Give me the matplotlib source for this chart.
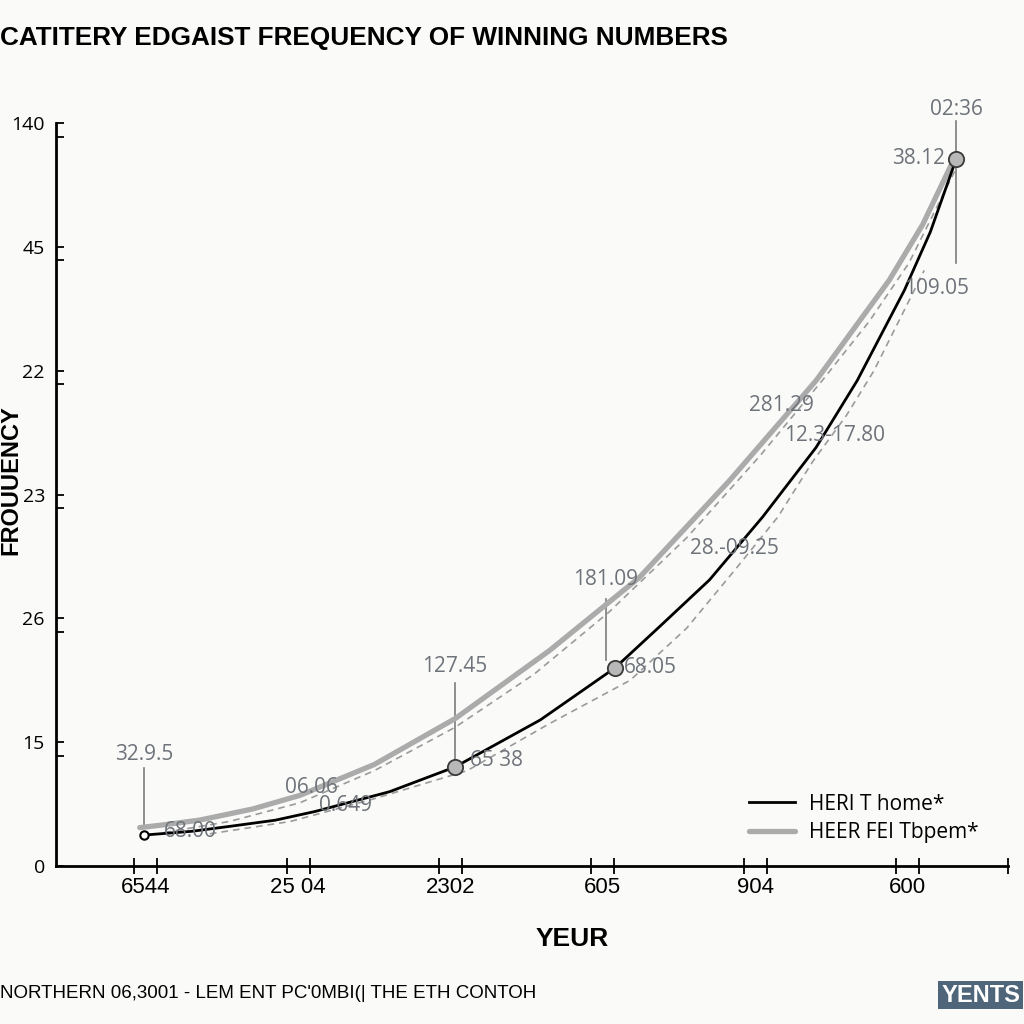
import numpy as np
import matplotlib.pyplot as plt

# category labels along the x axis
year_labels = ["6544", "25 04", "2302", "605", "904", "600"]
freq_labels = ["0", "15", "26", "23", "22", "45", "140"]

# black series
home_x = [-0.01, 0.30, 0.55, 0.85, 1.11, 1.60, 2.03, 2.59, 3.08, 3.37, 3.70, 4.05, 4.40, 4.67, 4.98, 5.15, 5.32]
home_y = [0.25, 0.28, 0.32, 0.37, 0.44, 0.60, 0.80, 1.18, 1.60, 1.93, 2.31, 2.82, 3.38, 3.92, 4.65, 5.12, 5.71]

# grey series
fel_x = [-0.04, 0.10, 0.35, 0.70, 1.01, 1.50, 2.03, 2.65, 3.24, 3.83, 4.40, 4.88, 5.10, 5.31]
fel_y = [0.31, 0.33, 0.37, 0.46, 0.57, 0.82, 1.19, 1.74, 2.33, 3.11, 3.92, 4.73, 5.18, 5.72]

# dashed guide lines
dash1_x = [0.12, 0.55, 1.01, 1.50, 2.03, 2.55, 3.04, 3.55, 4.03, 4.44, 4.75, 5.01, 5.31]
dash1_y = [0.27, 0.36, 0.51, 0.77, 1.12, 1.55, 2.05, 2.65, 3.31, 3.92, 4.40, 4.87, 5.61]
dash2_x = [0.42, 0.95, 1.49, 2.11, 2.65, 3.18, 3.55, 3.88, 4.15, 4.38, 4.60, 4.78, 5.11]
dash2_y = [0.26, 0.36, 0.54, 0.77, 1.15, 1.50, 1.92, 2.41, 2.82, 3.27, 3.64, 4.00, 4.81]

mark_x = [2.03, 3.08, 5.32]
mark_y = [0.80, 1.60, 5.71]

plt.rcParams['font.family'] = ['Open Sans', 'DejaVu Sans']
narrow = ['Liberation Sans', 'DejaVu Sans']
bg = '#fafaf8'
txt = '#6e737a'

fig = plt.figure(figsize=(10.24, 10.24), dpi=100, facecolor=bg)
ax = fig.add_axes([56/1024, (1024-866)/1024, (1008-56)/1024, (866-123)/1024])
ax.set_facecolor(bg)

ax.plot(fel_x, fel_y, color='#ababab', lw=3.8, solid_capstyle='round',
        solid_joinstyle='round', label='HEER FEI Tbpem*', zorder=2)
ax.plot(dash1_x, dash1_y, color='#9b9b9b', lw=1.2, ls=(0, (4, 3)), zorder=2)
ax.plot(dash2_x, dash2_y, color='#9b9b9b', lw=1.2, ls=(0, (4, 3)), zorder=2)
ax.plot(home_x, home_y, color='black', lw=2, solid_joinstyle='round',
        label='HERI T home*', zorder=3)

# leader lines
for lx, y0, y1 in [(-0.01, 0.31, 0.79), (2.03, 0.85, 1.48),
                   (3.02, 1.66, 2.16), (5.32, 4.87, 6.02)]:
    ax.plot([lx, lx], [y0, y1], color='#7d7d7d', lw=1.2, zorder=1, clip_on=False)

ax.plot(mark_x, mark_y, 'o', ms=11, mfc='#b8b8b8', mec='#3a3a3a', mew=1.3, zorder=4, clip_on=False)
ax.plot([-0.01], [0.25], 'o', ms=6, mfc='white', mec='black', mew=1.5, zorder=4)

notes = [
    ("32.9.5", -0.01, 0.90, 'center'),
    ("06.06", 1.09, 0.63, 'center'),
    ("0.649", 1.31, 0.49, 'center'),
    ("68.00", 0.29, 0.28, 'center'),
    ("127.45", 2.03, 1.61, 'center'),
    ("65 38", 2.13, 0.85, 'left'),
    ("181.09", 3.02, 2.31, 'center'),
    ("68.05", 3.14, 1.60, 'left'),
    ("28.-09.25", 3.57, 2.56, 'left'),
    ("281.29", 3.96, 3.72, 'left'),
    ("12.3-17.80", 4.19, 3.48, 'left'),
    ("38.12", 5.25, 5.71, 'right'),
    ("02:36", 5.32, 6.11, 'center'),
    ("109.05", 4.98, 4.66, 'left'),
]
for s, x, y, ha in notes:
    ax.text(x, y, s, color=txt, fontsize=15, ha=ha, va='center', zorder=5, clip_on=False)

ax.set_xlim(-0.59, 5.66)
ax.set_ylim(0, 6)

xpos = np.arange(len(year_labels))
ax.set_xticks(xpos)
ax.set_xticklabels(year_labels, family=narrow, fontsize=16)
ax.set_xticks(list(np.concatenate([xpos - 0.075, xpos + 0.075])) + [5.66], minor=True)
ax.tick_params(axis='x', which='major', length=0, pad=8)
ax.tick_params(axis='x', which='minor', direction='inout', length=11, width=1.3)

ypos = np.arange(len(freq_labels))
ax.set_yticks(ypos)
ax.set_yticklabels(freq_labels, fontsize=14)
ax.set_yticks(ypos[1:] - 0.11, minor=True)
ax.tick_params(axis='y', which='both', direction='in', length=6, width=1.3, pad=8)

for side in ['top', 'right']:
    ax.spines[side].set_visible(False)
for side in ['left', 'bottom']:
    ax.spines[side].set_linewidth(2)

ax.set_xlabel('YEUR', family=narrow, fontsize=19, fontweight='bold')
ax.xaxis.set_label_coords((572-56)/952, -0.082)

ax.legend(loc='upper left', bbox_to_anchor=((730-56)/952, (866-775)/743), frameon=False,
          fontsize=15, handlelength=2.2, handletextpad=0.7, labelspacing=0.35, reverse=True)

fig.text(0.0, 1-38/1024, 'CATITERY EDGAIST FREQUENCY OF WINNING NUMBERS', family=narrow,
         fontsize=18.8, fontweight='bold', va='center', ha='left')
fig.text(11/1024, 1-480/1024, 'FROUUENCY', family=narrow, fontsize=17, fontweight='bold',
         rotation=90, va='center', ha='center')
fig.text(0.0, 1-993/1024, "NORTHERN 06,3001 - LEM ENT PC'0MBI(| THE ETH CONTOH", family=narrow,
         fontsize=13.5, va='center', ha='left')
fig.text(1020/1024, 1-995/1024, 'YENTS', family=narrow, fontsize=17, fontweight='bold', color='white',
         va='center', ha='right', bbox=dict(facecolor='#4e657a', edgecolor='none', pad=2))

fig.savefig('out.png', dpi=100, facecolor=bg)
